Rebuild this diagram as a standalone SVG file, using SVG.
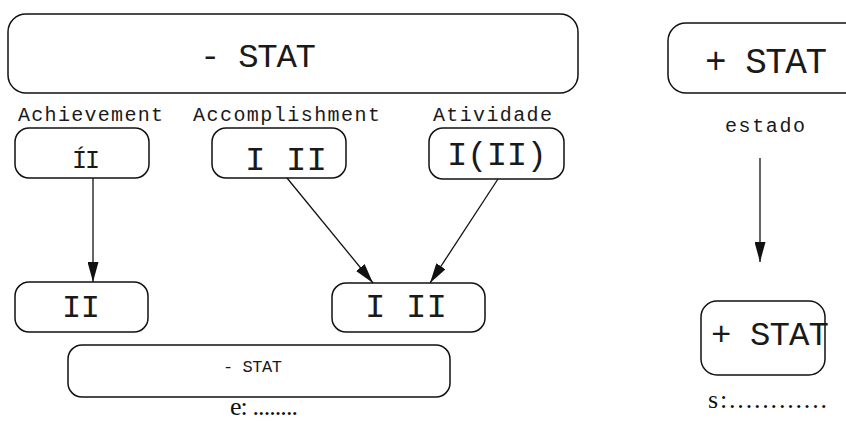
<svg xmlns="http://www.w3.org/2000/svg" width="846" height="421" viewBox="0 0 846 421">
<defs>
<style>
.box{fill:#fff;stroke:#111;stroke-width:1.5}
.mono{font-family:"Liberation Mono","Courier New",monospace;fill:#1a1a1a}
.serif{font-family:"Liberation Serif","Times New Roman",serif;fill:#111}
.edge{stroke:#111;stroke-width:1.3;fill:none}
</style>
<marker id="arr" markerUnits="userSpaceOnUse" markerWidth="20" markerHeight="11" refX="20" refY="5.5" orient="auto">
<path d="M0,0 L20,5.5 L0,11 z" fill="#111"/>
</marker>
</defs>
<rect width="846" height="421" fill="#fff"/>

<g id="top-minus-stat">
<rect class="box" x="8" y="14" width="570" height="79" rx="18"/>
<text class="mono" x="200" y="67" font-size="34" textLength="116">- STAT</text>
</g>

<g id="achievement">
<text class="mono" x="18" y="121" font-size="20" textLength="145">Achievement</text>
<rect class="box" x="15" y="128" width="134" height="50" rx="14"/>
<text class="mono" x="72" y="168" font-size="25" textLength="28">ÍI</text>
</g>

<g id="accomplishment">
<text class="mono" x="193" y="121" font-size="20" textLength="187">Accomplishment</text>
<rect class="box" x="212" y="128" width="134" height="50" rx="14"/>
<text class="mono" x="245" y="170" font-size="34" textLength="82">I II</text>
</g>

<g id="atividade">
<text class="mono" x="433" y="121" font-size="20" textLength="119">Atividade</text>
<rect class="box" x="429" y="128" width="135" height="51" rx="14"/>
<text class="mono" x="447" y="165" font-size="34" textLength="100">I(II)</text>
</g>

<g id="result-ii">
<rect class="box" x="15" y="282" width="133" height="50" rx="14"/>
<text class="mono" x="62" y="317" font-size="32" textLength="38">II</text>
</g>

<g id="result-i-ii">
<rect class="box" x="332" y="283" width="153" height="49" rx="14"/>
<text class="mono" x="365" y="317" font-size="34" textLength="82">I II</text>
</g>

<g id="bottom-minus-stat">
<rect class="box" x="68" y="345" width="382" height="52" rx="14"/>
<text class="mono" x="223" y="372" font-size="17" textLength="59">- STAT</text>
<text class="serif" x="230" y="415" font-size="26" textLength="68">e: ........</text>
</g>

<g id="top-plus-stat">
<rect class="box" x="668" y="23" width="200" height="70" rx="18"/>
<text class="mono" x="705" y="73" font-size="36" textLength="122">+ STAT</text>
<text class="mono" x="725" y="132" font-size="20" textLength="80">estado</text>
</g>

<g id="bottom-plus-stat">
<rect class="box" x="701" y="301" width="124" height="74" rx="16"/>
<text class="mono" x="711" y="345" font-size="34" textLength="118">+ STAT</text>
<text class="serif" x="708" y="408" font-size="26" textLength="119">s:............</text>
</g>

<g id="connectors">
<line class="edge" x1="93" y1="178" x2="93" y2="282" marker-end="url(#arr)"/>
<line class="edge" x1="287" y1="178" x2="373" y2="283" marker-end="url(#arr)"/>
<line class="edge" x1="498" y1="179" x2="430" y2="283" marker-end="url(#arr)"/>
<line class="edge" x1="760" y1="158" x2="760" y2="262" marker-end="url(#arr)"/>
</g>
</svg>
